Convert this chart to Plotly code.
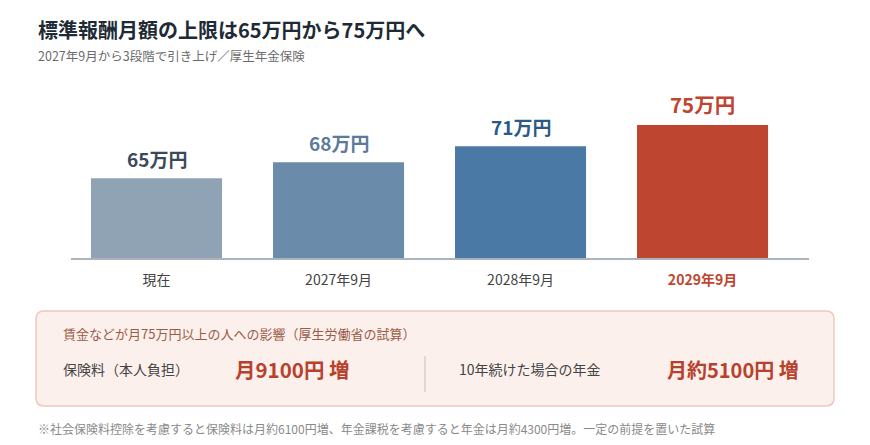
import plotly.graph_objects as go

# データ
categories = ["現在", "2027年9月", "2028年9月", "2029年9月"]
values = [65, 68, 71, 75]
value_labels = ["65万円", "68万円", "71万円", "75万円"]
bar_colors = ["#8fa3b4", "#6b8bab", "#4b79a5", "#be4630"]
label_colors = ["#3a4a58", "#5b7b9b", "#2c5a86", "#be4630"]
label_sizes = [19, 19, 19, 20.5]

title = "標準報酬月額の上限は65万円から75万円へ"
subtitle = "2027年9月から3段階で引き上げ／厚生年金保険"
box_header = "賃金などが月75万円以上の人への影響（厚生労働省の試算）"
item1_label = "保険料（本人負担）"
item1_value = "月9100円 増"
item2_label = "10年続けた場合の年金"
item2_value = "月約5100円 増"
footnote = "※社会保険料控除を考慮すると保険料は月約6100円増、年金課税を考慮すると年金は月約4300円増。一定の前提を置いた試算"

FONT = "Noto Sans CJK JP"
W, H = 870, 445
L, R, T, B = 71, 61, 90, 187


# ピクセル -> paper座標
def px(x):
    return (x - L) / (W - L - R)


def py(y):
    return (H - B - y) / (H - T - B)


ticktext = categories[:-1] + ["<b><span style='color:#be4630'>%s</span></b>" % categories[-1]]

fig = go.Figure(go.Bar(
    x=categories, y=values,
    marker=dict(color=bar_colors, line=dict(width=0)),
    width=0.72,
    hoverinfo="skip",
))

# 棒の上の値ラベル
for c, v, t, col, s in zip(categories, values, value_labels, label_colors, label_sizes):
    fig.add_annotation(x=c, y=v, text="<b>%s</b>" % t, showarrow=False,
                       yanchor="bottom", yshift=4,
                       font=dict(family=FONT, size=s, color=col))

texts = [
    (36, 30, "<b>%s</b>" % title, 20, "#1e2b36", "left"),
    (36, 55, subtitle, 12.5, "#6b6b6b", "left"),
    (61, 333, box_header, 13, "#9c5b48", "left"),
    (61, 369, item1_label, 14, "#444444", "left"),
    (233, 369, "<b>%s</b>" % item1_value, 20.5, "#b8412c", "left"),
    (457, 369, item2_label, 14, "#444444", "left"),
    (801, 369, "<b>%s</b>" % item2_value, 20, "#b8412c", "right"),
    (36, 428, footnote, 12, "#8a8a8a", "left"),
]
for x, y, t, s, col, anc in texts:
    fig.add_annotation(x=px(x), y=py(y), xref="paper", yref="paper", text=t,
                       showarrow=False, xanchor=anc, yanchor="middle",
                       font=dict(family=FONT, size=s, color=col))

# 角丸の枠
x0, x1, y0, y1, r = px(36), px(834), py(311), py(406), 8
rx, ry = r / (W - L - R), r / (H - T - B)
path = ("M %f %f L %f %f Q %f %f %f %f L %f %f Q %f %f %f %f "
        "L %f %f Q %f %f %f %f L %f %f Q %f %f %f %f Z") % (
    x0 + rx, y0, x1 - rx, y0, x1, y0, x1, y0 - ry, x1, y1 + ry, x1, y1, x1 - rx, y1,
    x0 + rx, y1, x0, y1, x0, y1 + ry, x0, y0 - ry, x0, y0, x0 + rx, y0)
fig.add_shape(type="path", path=path, xref="paper", yref="paper",
              fillcolor="#fbf0ec", line=dict(color="#ecc9be", width=1.5), layer="below")
fig.add_shape(type="line", xref="paper", yref="paper",
              x0=px(425), x1=px(425), y0=py(356), y1=py(392),
              line=dict(color="#dccfcb", width=1.5))

fig.update_layout(
    width=W, height=H,
    margin=dict(l=L, r=R, t=T, b=B),
    paper_bgcolor="white", plot_bgcolor="white",
    showlegend=False,
    font=dict(family=FONT),
    xaxis=dict(type="category", range=[-0.47, 3.585], showline=True,
               linecolor="#a9b4bc", linewidth=2, showgrid=False,
               tickvals=categories, ticktext=ticktext, ticks="",
               ticklabelstandoff=8, fixedrange=True,
               tickfont=dict(family=FONT, size=14, color="#444444")),
    yaxis=dict(range=[50, 81.6], visible=False, showgrid=False, zeroline=False,
               fixedrange=True),
)

# ページ余白をなくす
fig.write_html("out.html", config={"displayModeBar": False},
               post_script="document.body.style.margin='0';")
